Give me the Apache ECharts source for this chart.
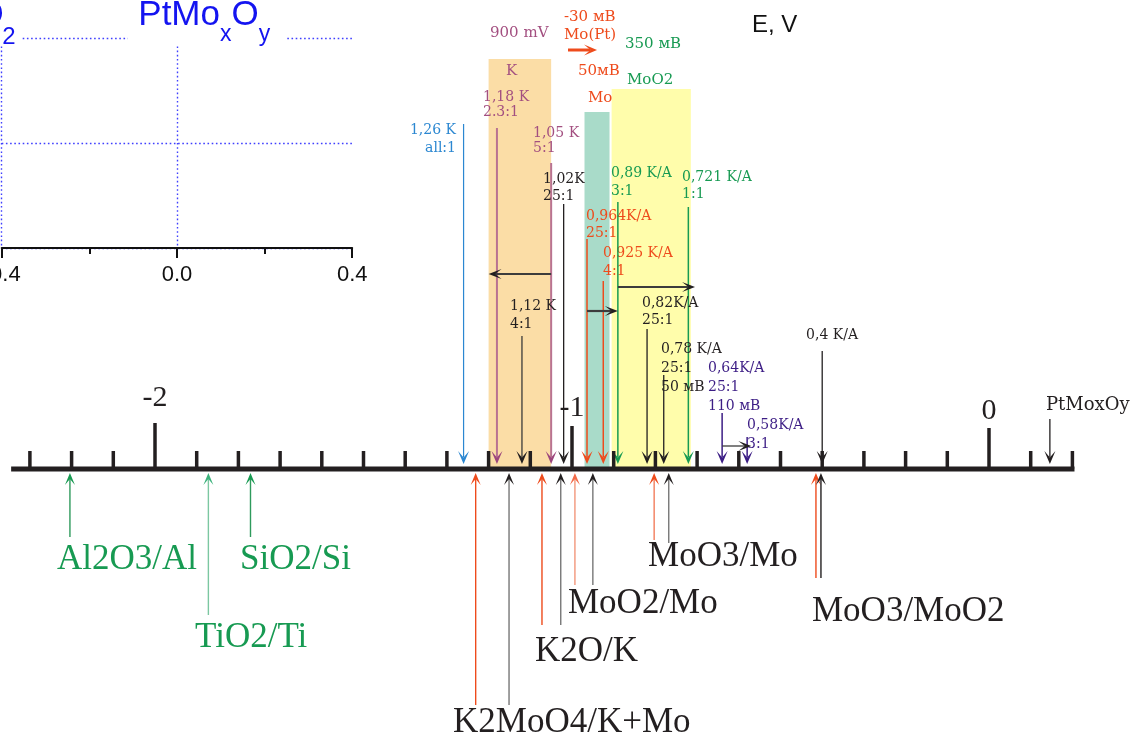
<!DOCTYPE html>
<html>
<head>
<meta charset="utf-8">
<title>PtMoxOy — potential scale</title>
<script src="https://cdn.jsdelivr.net/npm/echarts/dist/echarts.min.js"></script>
<style>
  html, body { margin: 0; padding: 0; background: #ffffff; }
  #chart { width: 1142px; height: 741px; }
</style>
</head>
<body>
<div id="chart"></div>
<script>
// ================= data =================
// Potential scale, V
const potentialRange = [-2.3717, 0.3669];
const axisEnds = [-2.345, 0.205];
const majorTicks = [-2, -1, 0];
const majorTickLabels = ['-2', '-1', '0'];
const minorTicks = [-2.3, -2.2, -2.1, -1.9, -1.8, -1.7, -1.6, -1.5, -1.4, -1.3, -1.2, -1.1,
                    -0.9, -0.8, -0.7, -0.6, -0.5, -0.4, -0.3, -0.2, -0.1, 0.1, 0.2];

// Stability regions, V
const bandNames = ['K', 'Mo', 'MoO2'];
const bandFrom = [-1.2, -0.97, -0.905];
const bandTo = [-1.05, -0.91, -0.715];

// Deposition potentials (arrows from above)
const depositLabels = ['1,26 K\nall:1', '1,18 K\n2.3:1', '1,05 K\n5:1', '1,02K\n25:1', '1,12 K\n4:1',
  '0,964K/A\n25:1', '0,925 K/A\n4:1', '0,89 K/A\n3:1', '0,721 K/A\n1:1', '0,82K/A\n25:1',
  '0,78 K/A\n25:1\n50 мВ', '0,64K/A\n25:1\n110 мВ', '0,58K/A\n3:1', '0,4 K/A', 'PtMoxOy'];
const depositPotentials = [-1.26, -1.18, -1.05, -1.02, -1.12, -0.964, -0.925, -0.89, -0.721, -0.82,
  -0.78, -0.64, -0.58, -0.4, 0.146];

// Potential shifts (horizontal arrows), V
const shiftFrom = [-1.05, -0.89, -0.964, -0.64, -1.0096];
const shiftTo = [-1.2, -0.705, -0.89, -0.57, -0.94];

// Equilibrium potentials of the redox couples (arrows from below), V
const coupleNames = ['Al2O3/Al', 'TiO2/Ti', 'SiO2/Si', 'K2MoO4/K+Mo', 'K2O/K', 'MoO2/Mo', 'MoO3/Mo', 'MoO3/MoO2'];
const coupleFirst = [-2.204, -1.872, -1.771, -1.231, -1.072, -0.993, -0.803, -0.415];
const coupleSecond = [null, null, null, -1.151, -1.027, -0.950, -0.768, -0.403];

// Notes above the regions
const noteTexts = ['900 mV', 'K', '-30 мВ', 'Mo(Pt)', '350 мВ', '50мВ', 'MoO2', 'Mo'];

// ================= layout & styles =================
const SERIF = '"Liberation Serif", "Times New Roman", serif';
const DSERIF = '"DejaVu Serif", serif';
const SANS = '"Liberation Sans", Arial, sans-serif';
const INK = '#231F20';
const ORANGE = '#EE4B1C';
const GREEN = '#179A52';
const MAUVE = '#A34F80';
const BLUE = '#2B87D1';
const PURPLE = '#3C1D85';
const GRID_BLUE = '#3f3fff';
const TITLE_BLUE = '#1414F0';

// vertical layout rows: 0 at top, 741 at bottom
const AXIS_ROW = 469;
const AXIS_WIDTH = 5;
const MINOR_TOP = 451;
const DOWN_TIP = 464;
const UP_TIP = 473;
const majorTopRows = [423, 426, 428];
const majorLabelRows = [398, 408, 411];

const bandTopRows = [59, 112, 89];
const bandColors = ['#FBDDA6', '#A9DBC9', '#FFFDAB'];

const depositLook = [
  { text: BLUE, line: BLUE, head: BLUE, w: 1.2, align: 'right' },
  { text: MAUVE, line: '#B97391', head: '#9C467D', w: 2 },
  { text: MAUVE, line: '#B97391', head: '#9C467D', w: 2 },
  { text: INK, line: INK, head: INK, w: 1.3 },
  { text: INK, line: '#3a3a3a', head: INK, w: 1.3 },
  { text: ORANGE, line: ORANGE, head: ORANGE, w: 1.5 },
  { text: ORANGE, line: ORANGE, head: ORANGE, w: 1.5 },
  { text: GREEN, line: GREEN, head: GREEN, w: 1.5 },
  { text: GREEN, line: GREEN, head: GREEN, w: 1.5 },
  { text: INK, line: INK, head: INK, w: 1.3 },
  { text: INK, line: INK, head: INK, w: 1.3 },
  { text: PURPLE, line: PURPLE, head: PURPLE, w: 1.5 },
  { text: PURPLE, line: PURPLE, head: PURPLE, w: 1.5 },
  { text: INK, line: INK, head: INK, w: 1.3 },
  { text: INK, line: INK, head: INK, w: 1.3, fs: 18 }
];
const depositLineTop = [124, 128, 163, 204, 336, 239, 281, 202, 207, 329, 375, 413, 437, 351, 419];
const depositLabelAt = [-1.2782, -1.2134, -1.0935, -1.0695, -1.1487, -0.9664, -0.9257, -0.9065,
  -0.7362, -0.8321, -0.7866, -0.6739, -0.5803, -0.4388, 0.1367];
const depositLabelRow = [130, 97, 133, 179, 306, 216, 253, 173, 177, 303, 349, 368, 425, 335, 405];
const depositLineHeight = [18, 15, 15.5, 17.5, 18, 17, 18, 18, 17.5, 17.5, 19, 19, 19, 18, 20];

const shiftRows = [274, 287, 311, 446, 50];
const shiftLook = [
  { c: '#3c3c3c', head: INK, w: 2.2 }, { c: '#3c3c3c', head: INK, w: 2.2 },
  { c: '#3c3c3c', head: INK, w: 2.2 }, { c: '#3c3c3c', head: INK, w: 1.3 },
  { c: ORANGE, head: ORANGE, w: 3 }
];

const coupleLook = [
  { line: '#2E9A5C', head: GREEN, text: GREEN },
  { line: '#7CC7A1', head: '#3CB27C', text: GREEN },
  { line: '#2E9A5C', head: GREEN, text: GREEN },
  { line: ORANGE, head: ORANGE, line2: '#777777', text: INK },
  { line: ORANGE, head: ORANGE, line2: '#777777', text: INK },
  { line: '#F3967A', head: '#F26B4A', line2: '#777777', text: INK },
  { line: '#F37D5C', head: ORANGE, line2: '#777777', text: INK },
  { line: ORANGE, head: ORANGE, line2: INK, text: INK }
];
const coupleLineEnd = [[537], [615], [537], [705, 705], [625, 625], [585, 585], [540, 543], [578, 578]];
const coupleLabelAt = [-2.235, -1.904, -1.796, -1.2854, -1.0887, -1.0096, -0.8177, -0.4245];
const coupleLabelRow = [560, 638, 560, 723, 652, 604, 557, 612];

const noteAt = [-1.1966, -1.1583, -1.0192, -1.0192, -0.8729, -0.9856, -0.8681, -0.9616];
const noteRows = [33, 71, 17, 35, 44, 71, 80, 98];
const noteColors = [MAUVE, MAUVE, ORANGE, ORANGE, GREEN, ORANGE, GREEN, ORANGE];

// ================= drawing helpers =================
function seg(p0, p1, color, width) {
  return { type: 'line', shape: { x1: p0[0], y1: p0[1], x2: p1[0], y2: p1[1] },
           style: { stroke: color, lineWidth: width } };
}
function txt(x, y, text, o) {
  return { type: 'text', x: x, y: y,
           style: Object.assign({ text: text, fill: INK, fontFamily: DSERIF, fontSize: 14,
                                  align: 'left', verticalAlign: 'middle' }, o || {}) };
}
function head(tx, ty, dir, w, h, color) {
  const n = h * 0.5;
  let pts;
  if (dir === 'down') pts = [[tx, ty], [tx - w / 2, ty - h], [tx, ty - n], [tx + w / 2, ty - h]];
  else if (dir === 'up') pts = [[tx, ty], [tx - w / 2, ty + h], [tx, ty + n], [tx + w / 2, ty + h]];
  else if (dir === 'right') pts = [[tx, ty], [tx - h, ty - w / 2], [tx - n, ty], [tx - h, ty + w / 2]];
  else pts = [[tx, ty], [tx + h, ty - w / 2], [tx + n, ty], [tx + h, ty + w / 2]];
  return { type: 'polygon', shape: { points: pts }, style: { fill: color } };
}

const measureCtx = document.createElement('canvas').getContext('2d');
function textWidth(s, size, family) {
  measureCtx.font = size + 'px ' + family;
  return measureCtx.measureText(s).width;
}

// ================= chart =================
const chart = echarts.init(document.getElementById('chart'));

const base = { type: 'custom', xAxisIndex: 0, yAxisIndex: 0, silent: true, clip: false };

const option = {
  animation: false,
  backgroundColor: '#ffffff',
  grid: [
    { left: 0, right: 0, top: 0, bottom: 0, outerBoundsMode: 'none' },
    { left: 1.7, top: 38, width: 350.5, height: 210, outerBoundsMode: 'none', containLabel: false }
  ],
  xAxis: [
    { gridIndex: 0, type: 'value', min: potentialRange[0], max: potentialRange[1], show: false },
    {
      gridIndex: 1, type: 'value', min: -0.4, max: 0.4, interval: 0.4,
      axisLine: { show: true, onZero: false, lineStyle: { color: '#111', width: 2 } },
      axisTick: { show: true, length: 10, lineStyle: { color: '#111', width: 2 } },
      minorTick: { show: true, splitNumber: 2, length: 6, lineStyle: { color: '#111', width: 2 } },
      axisLabel: { fontSize: 22, fontFamily: SANS, color: '#111', margin: 16,
                   showMinLabel: true, showMaxLabel: true, hideOverlap: false,
                   formatter: v => v.toFixed(1) },
      splitLine: { show: true, lineStyle: { color: [GRID_BLUE, GRID_BLUE, 'rgba(0,0,0,0)'], type: [1.6, 2.6], width: 1.4 } }
    }
  ],
  yAxis: [
    { gridIndex: 0, type: 'value', inverse: true, min: 0, max: 741, show: false },
    {
      gridIndex: 1, type: 'value', min: 0, max: 2, interval: 1,
      axisLine: { show: false }, axisTick: { show: false }, axisLabel: { show: false },
      splitLine: { show: true, lineStyle: { color: GRID_BLUE, type: [1.6, 2.6], width: 1.4 } }
    }
  ],
  series: [
    // stability regions
    Object.assign({}, base, {
      z: 1,
      data: bandNames.map((n, i) => [bandFrom[i], bandTo[i], i]),
      renderItem: function (params, api) {
        const i = api.value(2);
        const a = api.coord([api.value(0), bandTopRows[i]]);
        const b = api.coord([api.value(1), AXIS_ROW]);
        return { type: 'rect', shape: { x: a[0], y: a[1], width: b[0] - a[0], height: b[1] - a[1] },
                 style: { fill: bandColors[i] } };
      }
    }),
    // notes above the regions and the axis name
    Object.assign({}, base, {
      z: 3,
      data: noteTexts.map((t, i) => [noteAt[i], noteRows[i], i]),
      renderItem: function (params, api) {
        const i = api.value(2);
        const p = api.coord([api.value(0), api.value(1)]);
        const children = [txt(p[0], p[1], noteTexts[i], { fill: noteColors[i], fontSize: 15 })];
        if (i === 0) {
          const q = api.coord([-0.5683, 25]);
          children.push(txt(q[0], q[1], 'E, V', { fontFamily: SANS, fontSize: 24, fill: '#111' }));
        }
        return { type: 'group', children: children };
      }
    }),
    // deposition potentials, arrows from above
    Object.assign({}, base, {
      z: 4,
      data: depositPotentials.map((v, i) => [v, i]),
      renderItem: function (params, api) {
        const v = api.value(0), i = api.value(1), s = depositLook[i];
        const tip = api.coord([v, DOWN_TIP]);
        const top = api.coord([v, depositLineTop[i]]);
        const lh = depositLineHeight[i];
        const lab = api.coord([depositLabelAt[i], depositLabelRow[i]]);
        return { type: 'group', children: [
          seg(top, [tip[0], tip[1] - 7], s.line, s.w),
          head(tip[0], tip[1], 'down', 11, 13, s.head),
          txt(lab[0], lab[1] - lh / 2, depositLabels[i],
              { fill: s.text, align: s.align || 'left', verticalAlign: 'top', lineHeight: lh, fontSize: s.fs || 14 })
        ] };
      }
    }),
    // potential shifts
    Object.assign({}, base, {
      z: 5,
      data: shiftFrom.map((v, i) => [v, shiftTo[i], i]),
      renderItem: function (params, api) {
        const i = api.value(2), s = shiftLook[i];
        const p0 = api.coord([api.value(0), shiftRows[i]]);
        const p1 = api.coord([api.value(1), shiftRows[i]]);
        const right = p1[0] > p0[0];
        const h = 13, w = i === 4 ? 11 : 10;
        const end = [p1[0] + (right ? -h * 0.5 : h * 0.5), p1[1]];
        return { type: 'group', children: [
          seg(p0, end, s.c, s.w),
          head(p1[0], p1[1], right ? 'right' : 'left', w, h, s.head)
        ] };
      }
    }),
    // main potential axis
    Object.assign({}, base, {
      z: 6,
      data: [[0, AXIS_ROW]],
      renderItem: function (params, api) {
        const ch = [];
        ch.push(seg(api.coord([axisEnds[0], AXIS_ROW]), api.coord([axisEnds[1], AXIS_ROW]), INK, AXIS_WIDTH));
        minorTicks.forEach(function (v) {
          ch.push(seg(api.coord([v, MINOR_TOP]), api.coord([v, AXIS_ROW]), INK, 3.5));
        });
        majorTicks.forEach(function (v, i) {
          ch.push(seg(api.coord([v, majorTopRows[i]]), api.coord([v, AXIS_ROW]), INK, 3.5));
          const p = api.coord([v, majorLabelRows[i]]);
          ch.push(txt(p[0], p[1], majorTickLabels[i], { fontFamily: SERIF, fontSize: 30, align: 'center' }));
        });
        return { type: 'group', children: ch };
      }
    }),
    // redox couples, arrows from below
    Object.assign({}, base, {
      z: 7,
      data: coupleNames.map((n, i) => [coupleFirst[i], i]),
      renderItem: function (params, api) {
        const i = api.value(1), s = coupleLook[i];
        const ch = [];
        const vals = [api.value(0)];
        if (coupleSecond[i] !== null) vals.push(coupleSecond[i]);
        vals.forEach(function (v, k) {
          const tip = api.coord([v, UP_TIP]);
          const end = api.coord([v, coupleLineEnd[i][k]]);
          const lineColor = k === 0 ? s.line : s.line2;
          const headColor = k === 0 ? s.head : INK;
          ch.push(seg([tip[0], tip[1] + 6], end, lineColor, 1.4));
          ch.push(head(tip[0], tip[1], 'up', 10, 12, headColor));
        });
        const lab = api.coord([coupleLabelAt[i], coupleLabelRow[i]]);
        ch.push(txt(lab[0], lab[1], coupleNames[i], { fontFamily: SERIF, fontSize: 35, fill: s.text }));
        return { type: 'group', children: ch };
      }
    }),
    // inset title
    {
      type: 'custom', xAxisIndex: 1, yAxisIndex: 1, silent: true, clip: false, z: 8,
      data: [[-0.4, 2]],
      renderItem: function (params, api) {
        const a = api.coord([api.value(0), api.value(1)]);
        const big = 35, small = 23;
        const x0 = a[0] + 136.6;
        const wPtMo = textWidth('PtMo', big, SANS);
        const wx = textWidth('x', small, SANS);
        const wO = textWidth('O', big, SANS);
        const midBig = a[1] - 23, midSmall = a[1] - 3;
        const f = { fontFamily: SANS, fill: TITLE_BLUE };
        return { type: 'group', children: [
          { type: 'rect', shape: { x: a[0] + 126, y: a[1] - 8, width: 158, height: 16 }, style: { fill: '#fff' } },
          { type: 'rect', shape: { x: a[0] - 2, y: a[1] - 8, width: 22, height: 16 }, style: { fill: '#fff' } },
          txt(x0, midBig, 'PtMo', Object.assign({ fontSize: big }, f)),
          txt(x0 + wPtMo, midSmall, 'x', Object.assign({ fontSize: small }, f)),
          txt(x0 + wPtMo + wx, midBig, 'O', Object.assign({ fontSize: big }, f)),
          txt(x0 + wPtMo + wx + wO, midSmall, 'y', Object.assign({ fontSize: small }, f)),
          txt(a[0] + 0.5, a[1] - 0.5, '2', Object.assign({ fontSize: 24 }, f)),
          txt(a[0] + 2, midBig, 'O', Object.assign({ fontSize: big, align: 'right' }, f))
        ] };
      }
    }
  ]
};

chart.setOption(option);
</script>
</body>
</html>
